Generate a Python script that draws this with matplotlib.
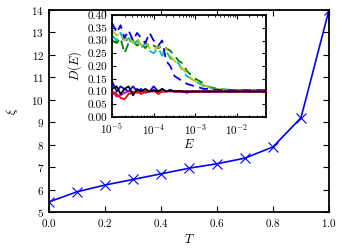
import matplotlib
matplotlib.use('Agg')
import matplotlib.pyplot as plt

plt.rcParams['font.family'] = 'serif'
plt.rcParams['font.serif'] = ['cmr10', 'DejaVu Serif']
plt.rcParams['mathtext.fontset'] = 'cm'
plt.rcParams['axes.formatter.use_mathtext'] = True
plt.rcParams['font.size'] = 8

# main curve
T = [0.0, 0.1, 0.2, 0.3, 0.4, 0.5, 0.6, 0.7, 0.8, 0.9, 1.0]
xi = [5.45, 5.9, 6.2, 6.45, 6.7, 6.95, 7.15, 7.4, 7.9, 9.2, 14.0]

# inset: D(E)
E = [1e-5, 1.3e-5, 1.6e-5, 2e-5, 2.5e-5, 3.2e-5, 4e-5, 5e-5, 6.3e-5, 8e-5,
     1e-4, 1.3e-4, 1.6e-4, 2e-4, 2.5e-4, 3.2e-4, 4e-4, 5e-4, 6.3e-4, 8e-4,
     1e-3, 1.3e-3, 1.6e-3, 2e-3, 2.5e-3, 3.2e-3, 4e-3, 5e-3, 6.3e-3, 8e-3,
     1e-2, 1.6e-2, 2.5e-2, 4e-2, 5e-2]

dash_blue = [0.37, 0.33, 0.36, 0.31, 0.34, 0.30, 0.33, 0.31, 0.29, 0.33,
             0.30, 0.28, 0.30, 0.22, 0.20, 0.16, 0.15, 0.14, 0.13, 0.125,
             0.12, 0.115, 0.11, 0.11, 0.108, 0.107, 0.106, 0.105, 0.105, 0.105,
             0.105, 0.105, 0.105, 0.105, 0.105]
dash_yellow = [0.34, 0.32, 0.33, 0.30, 0.32, 0.29, 0.31, 0.28, 0.30, 0.27,
               0.26, 0.28, 0.25, 0.27, 0.24, 0.22, 0.20, 0.19, 0.17, 0.15,
               0.14, 0.13, 0.125, 0.118, 0.112, 0.11, 0.108, 0.106, 0.105, 0.105,
               0.105, 0.105, 0.105, 0.105, 0.105]
dash_cyan = [0.32, 0.30, 0.33, 0.29, 0.31, 0.28, 0.30, 0.27, 0.29, 0.26,
             0.25, 0.27, 0.24, 0.26, 0.23, 0.22, 0.21, 0.18, 0.16, 0.15,
             0.14, 0.13, 0.12, 0.115, 0.112, 0.11, 0.108, 0.107, 0.106, 0.106,
             0.105, 0.105, 0.105, 0.105, 0.105]
dash_green = [0.30, 0.29, 0.31, 0.25, 0.29, 0.30, 0.28, 0.29, 0.27, 0.29,
              0.28, 0.27, 0.28, 0.27, 0.26, 0.24, 0.22, 0.21, 0.18, 0.165,
              0.15, 0.14, 0.13, 0.12, 0.115, 0.112, 0.11, 0.108, 0.107, 0.106,
              0.106, 0.105, 0.105, 0.105, 0.105]
solid_blue = [0.14, 0.10, 0.12, 0.11, 0.10, 0.12, 0.10, 0.11, 0.095, 0.10,
              0.12, 0.10, 0.11, 0.10, 0.105, 0.10, 0.10, 0.10, 0.095, 0.10,
              0.10, 0.10, 0.10, 0.10, 0.10, 0.10, 0.10, 0.10, 0.10, 0.10,
              0.10, 0.10, 0.10, 0.10, 0.10]
solid_red = [0.10, 0.09, 0.075, 0.07, 0.09, 0.095, 0.10, 0.09, 0.10, 0.10,
             0.105, 0.09, 0.10, 0.10, 0.105, 0.10, 0.10, 0.10, 0.10, 0.10,
             0.10, 0.10, 0.10, 0.10, 0.10, 0.10, 0.10, 0.10, 0.10, 0.10,
             0.10, 0.10, 0.10, 0.10, 0.10]
solid_magenta = [0.10, 0.08, 0.085, 0.095, 0.10, 0.10, 0.095, 0.10, 0.10, 0.10,
                 0.10, 0.10, 0.10, 0.10, 0.10, 0.10, 0.10, 0.10, 0.10, 0.10,
                 0.10, 0.10, 0.10, 0.10, 0.10, 0.10, 0.10, 0.10, 0.10, 0.10,
                 0.10, 0.10, 0.10, 0.10, 0.10]
solid_black = [0.11, 0.12, 0.09, 0.11, 0.12, 0.085, 0.11, 0.10, 0.11, 0.10,
               0.105, 0.10, 0.11, 0.10, 0.105, 0.10, 0.102, 0.10, 0.10, 0.10,
               0.10, 0.10, 0.10, 0.10, 0.10, 0.10, 0.10, 0.10, 0.10, 0.10,
               0.10, 0.10, 0.10, 0.10, 0.10]

fig = plt.figure(figsize=(3.5, 2.5), dpi=100)
ax = fig.add_axes([0.14, 0.152, 0.80, 0.808])
ax.plot(T, xi, color='blue', lw=1.2, marker='x', ms=7, mew=0.8)
ax.set_xlim(0, 1)
ax.set_ylim(5, 14)
ax.set_xticks([0.0, 0.2, 0.4, 0.6, 0.8, 1.0])
ax.set_xlabel(r'$T$', fontsize=9, labelpad=3)
ax.set_ylabel(r'$\xi$', fontsize=9, labelpad=8)
ax.tick_params(direction='in', top=True, right=True, length=4, width=0.8, labelsize=8)
for s in ax.spines.values():
    s.set_linewidth(1.3)

ins = fig.add_axes([0.32, 0.532, 0.44, 0.408])
dash = (0, (5, 3))
ins.plot(E, dash_green, color='green', lw=1.3, ls=dash)
ins.plot(E, dash_cyan, color='c', lw=1.3, ls=dash)
ins.plot(E, dash_yellow, color='y', lw=1.3, ls=dash)
ins.plot(E, dash_blue, color='blue', lw=1.3, ls=dash)
ins.plot(E, solid_blue, color='blue', lw=1.3)
ins.plot(E, solid_magenta, color='m', lw=1.3)
ins.plot(E, solid_red, color='red', lw=1.3)
ins.plot(E, solid_black, color='black', lw=1.3)
ins.set_xscale('log')
ins.set_xlim(1e-5, 5e-2)
ins.set_ylim(0, 0.4)
ins.set_yticks([0.0, 0.05, 0.1, 0.15, 0.2, 0.25, 0.3, 0.35, 0.4])
ins.set_yticklabels(['%.2f' % v for v in [0.0, 0.05, 0.1, 0.15, 0.2, 0.25, 0.3, 0.35, 0.4]])
ins.set_xlabel(r'$E$', fontsize=9, labelpad=1)
ins.set_ylabel(r'$D(E)$', fontsize=9, labelpad=2)
ins.tick_params(direction='in', top=True, right=True, length=3, width=0.8, labelsize=8)
ins.tick_params(which='minor', direction='in', top=True, right=True, length=1.5)
for s in ins.spines.values():
    s.set_linewidth(1.3)

fig.savefig('out.png', dpi=100)
